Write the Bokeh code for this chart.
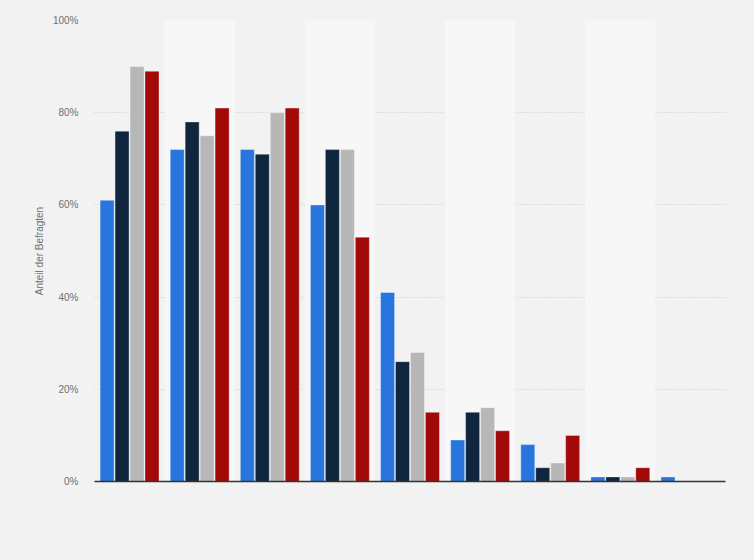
from bokeh.plotting import figure
from bokeh.models import Range1d, FixedTicker, ColumnDataSource, CustomJSTickFormatter
from bokeh.embed import file_html
from bokeh.resources import INLINE

# ---- data ----
categories = ["1", "2", "3", "4", "5", "6", "7", "8", "9"]
series_names = ["Serie A", "Serie B", "Serie C", "Serie D"]
serie_a = [61, 72, 72, 60, 41, 9, 8, 1, 1]
serie_b = [76, 78, 71, 72, 26, 15, 3, 1, 0]
serie_c = [90, 75, 80, 72, 28, 16, 4, 1, 0]
serie_d = [89, 81, 81, 53, 15, 11, 10, 3, 0]
y_ticks = [0, 20, 40, 60, 80, 100]
y_label = "Anteil der Befragten"

colors = ["#2876dd", "#10263f", "#b7b7b7", "#a20a0a"]
series = [serie_a, serie_b, serie_c, serie_d]
offsets = [-0.32, -0.107, 0.107, 0.32]

FONT = "Liberation Sans"
BG = "#f2f2f2"

p = figure(width=746, height=552, output_backend="svg", toolbar_location=None,
           x_range=Range1d(0, len(categories)), y_range=Range1d(0, 100),
           min_border_left=94, min_border_right=21, min_border_top=20, min_border_bottom=71,
           background_fill_color=BG, border_fill_color=BG,
           outline_line_color=None)

# alternating bands
band_x = [i + 0.5 for i in range(len(categories)) if i % 2 == 1]
p.vbar(x=band_x, width=1.0, top=100, bottom=0, fill_color="#f7f7f7", line_color=None)

# bars
for vals, col, off in zip(series, colors, offsets):
    src = ColumnDataSource(dict(x=[i + 0.5 + off for i in range(len(categories))], top=vals))
    p.vbar(x="x", top="top", bottom=0, width=0.2, source=src,
           fill_color=col, line_color="white", line_alpha=0.35, line_width=1)

# grid
p.xgrid.visible = False
p.ygrid.grid_line_color = "#c8c8c8"
p.ygrid.grid_line_dash = "1 2"
p.ygrid.grid_line_width = 1
p.ygrid.ticker = FixedTicker(ticks=y_ticks[1:])

# y axis
p.yaxis.ticker = FixedTicker(ticks=y_ticks)
p.yaxis.formatter = CustomJSTickFormatter(code="return tick + '%';")
p.yaxis.axis_line_color = None
p.yaxis.major_tick_line_color = None
p.yaxis.major_tick_out = 0
p.yaxis.major_tick_in = 0
p.yaxis.minor_tick_line_color = None
p.yaxis.minor_tick_out = 0
p.yaxis.major_label_standoff = 16
p.yaxis.major_label_text_font = FONT
p.yaxis.major_label_text_font_size = "10px"
p.yaxis.major_label_text_color = "#707070"
p.yaxis.axis_label = y_label
p.yaxis.axis_label_text_font = FONT
p.yaxis.axis_label_text_font_size = "10px"
p.yaxis.axis_label_text_font_style = "normal"
p.yaxis.axis_label_text_color = "#707070"
p.yaxis.axis_label_standoff = 5

# x axis: line only
p.xaxis.ticker = FixedTicker(ticks=[])
p.xaxis.major_label_text_font_size = "0px"
p.xaxis.axis_line_color = "#333333"
p.xaxis.axis_line_width = 1.5
p.xaxis.major_tick_line_color = None
p.xaxis.minor_tick_line_color = None

html = file_html(p, INLINE)
html = html.replace("<head>", "<head><style>body{background:#f2f2f2;}</style>", 1)
open("out.html", "w").write(html)
